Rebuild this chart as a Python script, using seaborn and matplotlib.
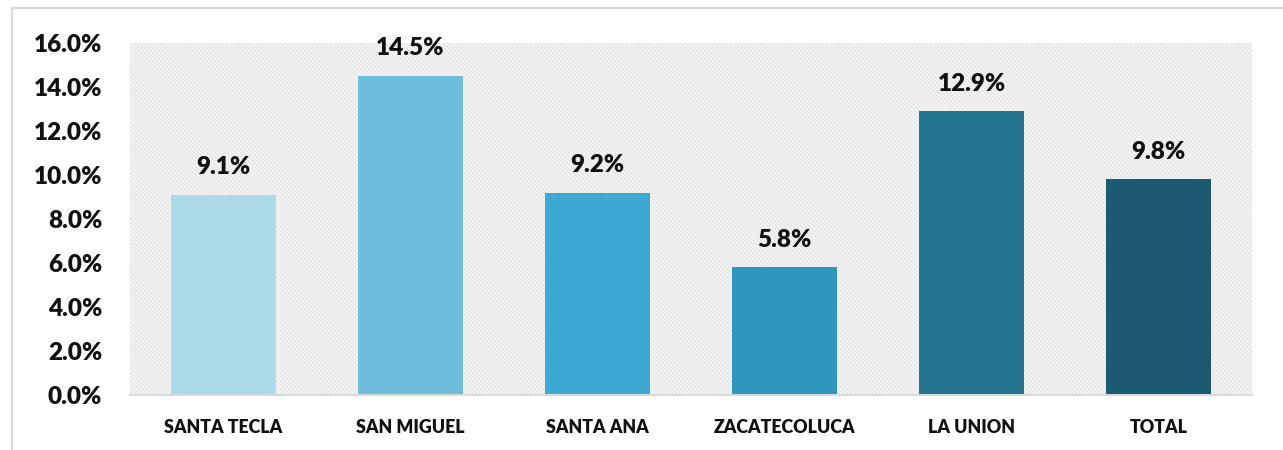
import matplotlib
matplotlib.use("Agg")
import matplotlib.pyplot as plt
import seaborn as sns
import pandas as pd
from matplotlib.patches import Rectangle
from matplotlib.ticker import FuncFormatter

categories = ["SANTA TECLA", "SAN MIGUEL", "SANTA ANA", "ZACATECOLUCA", "LA UNION", "TOTAL"]
values = [9.1, 14.5, 9.2, 5.8, 12.9, 9.8]
colors = ["#ADDAEB", "#6DBEDC", "#3BA9D1", "#2E97C0", "#22748F", "#1B5A71"]
yticks = [0, 2, 4, 6, 8, 10, 12, 14, 16]

sns.set_theme(style="white")
plt.rcParams['font.family'] = ['Lato', 'DejaVu Sans']
W = "heavy"

df = pd.DataFrame({"cat": categories, "val": values})

fig = plt.figure(figsize=(12.83, 4.5), dpi=100)
fig.patches.append(Rectangle((12/1283, -0.1), 1.2, 1.08 - 8/450 + 0.02, transform=fig.transFigure,
                             fill=False, edgecolor="#d9d9d9", linewidth=1.5))
ax = fig.add_axes([130/1283, 55/450, 1122/1283, 352/450])

ax.patch.set_facecolor("#f7f7f7")
ax.patch.set_edgecolor("#e4e4e4")
ax.patch.set_hatch("\\\\\\\\\\\\\\\\")
ax.patch.set_linewidth(0)

sns.barplot(data=df, x="cat", y="val", hue="cat", palette=colors, legend=False,
            width=0.56, ax=ax, saturation=1, linewidth=0)

ax.set_ylim(0, 16)
ax.set_yticks(yticks)
ax.yaxis.set_major_formatter(FuncFormatter(lambda v, p: f"{v:.1f}%"))
ax.set_xlabel("")
ax.set_ylabel("")
for s in ["top", "right", "left"]:
    ax.spines[s].set_visible(False)
ax.spines["bottom"].set_color("#d9d9d9")
ax.spines["bottom"].set_linewidth(1.5)
ax.tick_params(axis="y", length=0, pad=20, labelsize=17.5)
ax.tick_params(axis="x", length=0, pad=17, labelsize=12.8)
for lab in ax.get_yticklabels() + ax.get_xticklabels():
    lab.set_fontweight(W)
    lab.set_color("#111111")

for i, v in enumerate(values):
    ax.annotate(f"{v:.1f}%", (i, v), xytext=(0, 12), textcoords="offset points",
                ha="center", va="bottom", fontsize=17.5, fontweight=W, color="#111111")

fig.savefig("out.png", dpi=100)
